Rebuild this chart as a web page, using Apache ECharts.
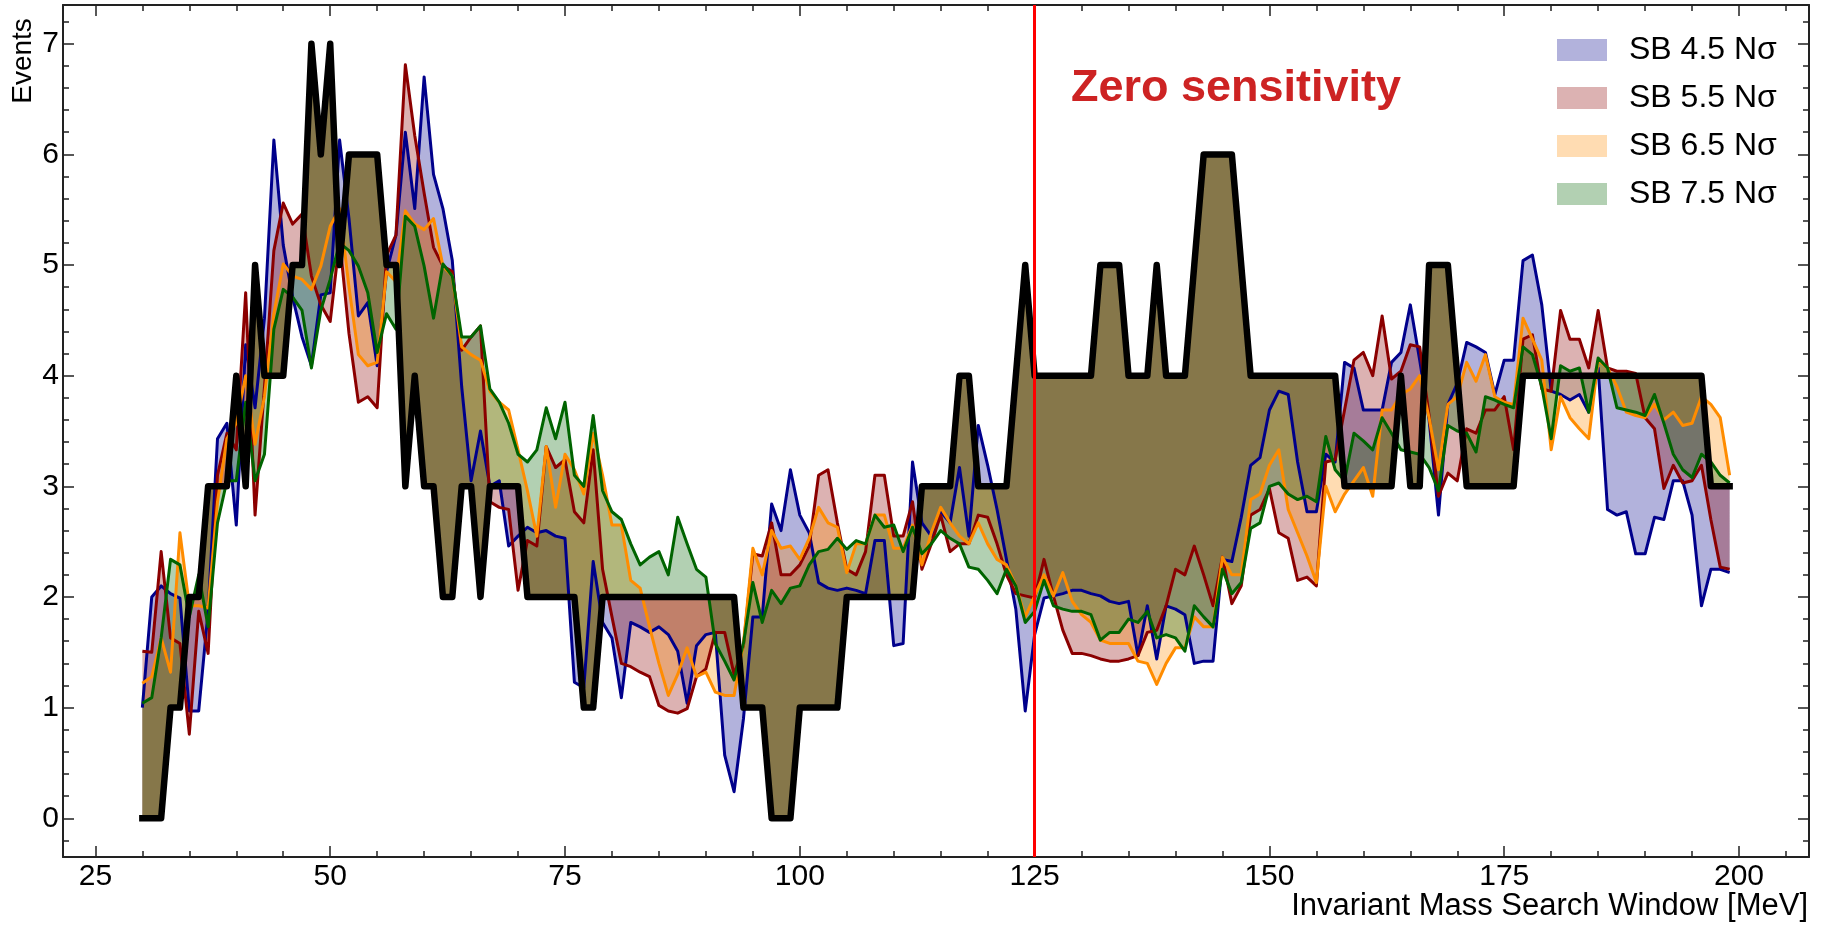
<!DOCTYPE html>
<html>
<head>
<meta charset="utf-8">
<script src="https://cdn.jsdelivr.net/npm/echarts@6/dist/echarts.min.js"></script>
<style>
html,body{margin:0;padding:0;background:#fff}
#chart{width:1825px;height:929px}
</style>
</head>
<body>
<div id="chart"></div>
<script>
// mass window grid [MeV], one point per MeV
var mass = [];
for (var m = 30; m <= 199; m++) mass.push(m);

// observed events (black)
var observed = [
	0,0,0,1,1,2,2,3,3,3, 4,3,5,4,4,4,5,5,7,6,
	7,5,6,6,6,6,5,5,3,4, 3,3,2,2,3,3,2,3,3,3,
	3,2,2,2,2,2,2,1,1,2, 2,2,2,2,2,2,2,2,2,2,
	2,2,2,2,1,1,1,0,0,0, 1,1,1,1,1,2,2,2,2,2,
	2,2,2,3,3,3,3,4,4,3, 3,3,3,4,5,4,4,4,4,4,
	4,4,5,5,5,4,4,4,5,4, 4,4,5,6,6,6,6,5,4,4,
	4,4,4,4,4,4,4,4,3,3, 3,3,3,3,4,3,3,5,5,5,
	4,3,3,3,3,3,3,4,4,4, 4,4,4,4,4,4,4,4,4,4,
	4,4,4,4,4,4,4,3,3,3
];

// SB 4.5 Nσ
var sb45 = [
	1.00,2.00,2.10,2.03,1.99,0.97,0.97,1.87,3.43,3.57, 2.65,4.28,3.71,4.52,6.13,5.18,4.71,4.35,4.09,4.73,
	4.75,6.13,5.42,4.54,4.66,4.09,4.94,5.27,6.20,5.51, 6.70,5.82,5.51,5.04,3.90,3.05,3.50,3.00,3.05,2.46,
	2.55,2.63,2.58,2.60,2.55,2.53,1.23,1.18,2.32,1.77, 1.63,1.09,1.77,1.73,1.68,1.73,1.66,1.51,1.04,1.56,
	1.66,1.68,0.57,0.24,0.90,1.82,1.82,2.84,2.60,3.15, 2.74,2.58,2.13,2.08,2.06,2.08,2.06,2.03,2.51,2.51,
	1.56,1.58,3.22,2.67,2.55,2.77,2.67,3.17,2.55,3.55, 3.19,2.79,2.34,1.89,0.97,1.66,1.99,2.01,2.03,2.06,
	2.06,2.03,2.01,1.96,1.94,1.96,1.47,1.92,1.44,1.92, 1.89,1.84,1.40,1.42,1.42,2.34,2.32,2.72,3.19,3.26,
	3.69,3.86,3.83,3.22,2.77,2.77,3.29,3.22,4.12,4.07, 3.69,3.69,3.69,4.12,4.21,4.64,4.14,3.60,2.74,3.74,
	3.93,4.30,4.26,4.21,3.83,4.14,4.14,5.04,5.09,4.64, 3.86,3.83,3.78,3.83,3.67,4.07,2.79,2.74,2.77,2.39,
	2.39,2.72,2.70,3.05,3.05,2.74,1.92,2.25,2.25,2.22
];

// SB 5.5 Nσ
var sb55 = [
	1.51,1.50,2.41,1.63,1.58,0.76,1.87,1.49,3.10,3.48, 3.33,4.75,2.74,3.90,5.13,5.56,5.37,5.46,4.90,4.64,
	4.49,5.23,4.38,3.76,3.81,3.71,5.09,5.27,6.81,6.17, 5.65,5.16,4.99,4.94,4.23,4.35,4.45,2.86,2.81,2.79,
	2.06,2.51,2.46,3.36,3.17,3.24,2.77,2.67,3.33,2.25, 1.82,1.40,1.37,1.32,1.28,1.02,0.97,0.95,0.99,1.28,
	1.35,1.68,1.68,1.30,1.56,2.39,2.37,2.67,2.20,2.20, 2.29,2.46,3.10,3.15,2.67,2.25,2.20,2.41,3.10,3.10,
	2.55,2.55,2.86,2.25,2.48,2.74,2.41,2.48,2.48,2.74, 2.72,2.48,2.20,2.03,2.01,1.99,2.34,2.01,1.70,1.49,
	1.49,1.47,1.44,1.42,1.42,1.44,1.47,1.68,1.70,1.92, 2.25,2.20,2.46,2.20,1.92,2.36,1.94,2.10,2.74,2.79,
	2.98,2.58,2.53,2.15,2.18,2.10,3.22,3.24,3.69,4.14, 4.21,4.00,4.54,3.97,4.04,4.28,4.26,3.64,2.91,3.12,
	3.05,3.52,3.48,3.69,3.69,3.81,3.33,4.33,4.37,3.88, 3.86,4.59,4.33,4.33,4.07,4.59,4.07,4.04,4.04,4.02,
	3.62,3.52,2.98,3.19,3.03,3.05,3.19,2.70,2.27,2.25
];

// SB 6.5 Nσ
var sb65 = [
	1.22,1.28,1.63,1.32,2.58,1.92,1.92,1.90,2.86,3.43, 3.57,4.00,3.38,3.81,4.56,5.01,4.90,4.87,4.78,4.99,
	5.35,5.51,4.80,4.19,4.09,4.12,4.94,4.85,5.49,5.37, 5.32,5.42,4.99,4.90,4.26,4.19,4.14,3.86,3.76,3.69,
	3.33,2.96,2.55,3.36,2.81,3.29,3.15,2.93,3.48,3.10, 2.65,2.65,2.15,2.08,1.73,1.40,1.11,1.30,1.54,1.28,
	1.32,1.14,1.11,1.11,1.58,2.44,2.20,2.60,2.44,2.46, 2.34,2.53,2.81,2.67,2.63,2.22,2.48,2.48,2.74,2.74,
	2.44,2.44,2.65,2.29,2.58,2.81,2.67,2.55,2.48,2.67, 2.48,2.34,2.29,2.10,1.82,2.01,2.20,2.01,2.22,1.96,
	1.84,1.77,1.61,1.58,1.58,1.58,1.42,1.40,1.21,1.40, 1.54,1.54,1.82,1.73,1.73,2.36,2.20,2.20,2.88,2.93,
	3.19,3.33,2.79,2.58,2.37,2.13,3.00,2.77,2.93,3.05, 3.17,2.91,3.69,3.69,3.83,3.88,4.00,3.62,3.15,3.74,
	3.81,4.12,3.95,4.19,3.81,3.76,3.74,4.52,4.33,4.14, 3.33,3.81,3.62,3.52,3.43,4.14,4.07,3.90,3.67,3.64,
	3.62,3.74,3.60,3.67,3.55,3.57,3.81,3.74,3.62,3.10
];

// SB 7.5 Nσ
var sb75 = [
	1.04,1.09,1.63,2.34,2.29,1.82,2.20,1.73,2.67,3.05, 3.05,3.76,3.05,3.29,4.42,4.78,4.71,4.59,4.07,4.59,
	4.87,5.20,5.13,4.99,4.75,4.21,4.56,4.42,5.44,5.35, 4.99,4.52,5.01,4.90,4.35,4.35,4.45,3.88,3.76,3.57,
	3.29,3.22,3.33,3.71,3.43,3.76,3.10,3.00,3.64,2.96, 2.77,2.70,2.48,2.29,2.36,2.41,2.20,2.72,2.48,2.25,
	2.18,1.58,1.42,1.25,1.58,2.13,1.77,2.06,1.94,2.08, 2.10,2.29,2.41,2.43,2.53,2.43,2.51,2.48,2.74,2.63,
	2.65,2.41,2.63,2.39,2.48,2.60,2.53,2.48,2.27,2.25, 2.15,2.03,2.25,2.10,1.77,1.87,2.15,1.92,1.89,1.87,
	1.87,1.84,1.61,1.68,1.68,1.80,1.77,1.87,1.63,1.66, 1.63,1.51,1.92,1.82,1.73,2.25,2.03,2.13,2.62,2.67,
	3.00,3.03,2.93,2.88,2.91,2.86,3.45,3.15,3.05,3.48, 3.41,3.33,3.62,3.48,3.33,3.31,3.29,3.17,2.96,3.55,
	3.50,3.48,3.31,3.81,3.78,3.74,3.71,4.26,4.19,3.90, 3.43,4.09,4.04,4.07,3.67,4.16,4.07,3.71,3.69,3.67,
	3.64,3.83,3.57,3.29,3.15,3.08,3.29,3.22,3.10,3.03
];

var sbNames = ['SB 4.5 Nσ', 'SB 5.5 Nσ', 'SB 6.5 Nσ', 'SB 7.5 Nσ'];
var sbData = [sb45, sb55, sb65, sb75];
var sbLine = ['#00008b', '#8b0000', '#ff8c00', '#006400'];
var sbFill = ['rgba(0,0,139,0.3)', 'rgba(139,0,0,0.3)', 'rgba(255,140,0,0.3)', 'rgba(0,100,0,0.3)'];

// ticks
var xMajor = [25, 50, 75, 100, 125, 150, 175, 200];
var yMajor = [0, 1, 2, 3, 4, 5, 6, 7];
var xMinor = [];
for (var t = 25; t <= 205; t += 5) { if (t % 25 != 0) xMinor.push(t); }
var yMinor = [];
for (var k = -1; k <= 36; k++) { if (k % 5 != 0) yMinor.push(+(k * 0.2).toFixed(1)); }

var cutMass = 125; // zero sensitivity above this
var xRange = [21.55, 207.45];
var yRange = [-0.35, 7.35];

var FONT = 'Liberation Sans';
var AXIS_COLOR = '#222';

function pairs(values) {
	var out = [];
	for (var i = 0; i < mass.length; i++) out.push([mass[i], values[i]]);
	return out;
}

// one axis = one set of ticks (no mirrored/minor custom ticks in ECharts, so stack axes)
function makeAxis(dim, position, ticks, len, withLine, withLabel) {
	var range = dim == 'x' ? xRange : yRange;
	return {
		type: 'value',
		position: position,
		min: range[0],
		max: range[1],
		axisLine: { show: withLine, onZero: false, lineStyle: { color: AXIS_COLOR, width: 2 } },
		axisTick: { show: true, inside: true, length: len, customValues: ticks, lineStyle: { color: AXIS_COLOR, width: 1.5 } },
		axisLabel: withLabel ? { show: true, customValues: ticks, fontFamily: FONT, fontSize: 30, color: '#000', margin: dim == 'x' ? 5 : 4 } : { show: false },
		splitLine: { show: false },
		minorTick: { show: false }
	};
}

// fill between an SB curve and the observed curve, drawn as one polygon
function fillSeries(idx) {
	var values = sbData[idx];
	return {
		name: sbNames[idx],
		type: 'custom',
		coordinateSystem: 'cartesian2d',
		silent: true,
		z: 1,
		data: [[mass[0], values[0]]],
		renderItem: function (params, api) {
			var pts = [];
			for (var i = 0; i < mass.length; i++) pts.push(api.coord([mass[i], values[i]]));
			for (var j = mass.length - 1; j >= 0; j--) pts.push(api.coord([mass[j], observed[j]]));
			return { type: 'polygon', shape: { points: pts }, style: { fill: sbFill[idx] } };
		}
	};
}

function lineSeries(idx) {
	return {
		name: sbNames[idx],
		type: 'line',
		data: pairs(sbData[idx]),
		showSymbol: false,
		silent: true,
		z: 2,
		itemStyle: { color: sbLine[idx] },
		lineStyle: { color: sbLine[idx], width: 3, join: 'round' }
	};
}

var series = [];
for (var s = 0; s < sbData.length; s++) series.push(fillSeries(s));
for (var s2 = 0; s2 < sbData.length; s2++) series.push(lineSeries(s2));
series.push({
	name: 'cut',
	type: 'line',
	data: [],
	z: 3,
	markLine: {
		silent: true,
		symbol: ['none', 'none'],
		label: { show: false },
		lineStyle: { color: '#ff0000', width: 3, type: 'solid' },
		data: [{ xAxis: cutMass }]
	}
});
series.push({
	name: 'Observed',
	type: 'line',
	data: pairs(observed),
	showSymbol: false,
	silent: true,
	z: 4,
	itemStyle: { color: '#000' },
	lineStyle: { color: '#000', width: 6.5, join: 'round', cap: 'square' }
});

var legendData = [];
for (var l = 0; l < sbNames.length; l++) {
	legendData.push({ name: sbNames[l], icon: 'rect', itemStyle: { color: sbFill[l], borderWidth: 0 } });
}

var myChart = echarts.init(document.getElementById('chart'));
var option = {
	animation: false,
	backgroundColor: '#fff',
	grid: { left: 63, right: 16, top: 5, bottom: 72, containLabel: false },
	xAxis: [
		makeAxis('x', 'bottom', xMajor, 11, true, true),
		makeAxis('x', 'bottom', xMinor, 6, false, false),
		makeAxis('x', 'top', xMajor, 11, true, false),
		makeAxis('x', 'top', xMinor, 6, false, false)
	],
	yAxis: [
		makeAxis('y', 'left', yMajor, 11, true, true),
		makeAxis('y', 'left', yMinor, 6, false, false),
		makeAxis('y', 'right', yMajor, 11, true, false),
		makeAxis('y', 'right', yMinor, 6, false, false)
	],
	legend: {
		orient: 'vertical',
		left: 1557,
		top: 34,
		padding: 0,
		itemWidth: 50,
		itemHeight: 22,
		itemGap: 16,
		selectedMode: false,
		textStyle: { fontFamily: FONT, fontSize: 32, color: '#000', padding: [0, 0, 0, 17] },
		data: legendData
	},
	graphic: [
		{
			type: 'text', x: 1071, y: 89,
			style: { text: 'Zero sensitivity', fill: '#cd2323', font: 'bold 45px "Liberation Sans"', align: 'left', verticalAlign: 'middle' }
		},
		{
			type: 'text', x: 1808, y: 906,
			style: { text: 'Invariant Mass Search Window [MeV]', fill: '#000', font: '31px "Liberation Sans"', align: 'right', verticalAlign: 'middle' }
		},
		{
			type: 'text', x: 23, y: 61, rotation: Math.PI / 2,
			style: { text: 'Events', fill: '#000', font: '28px "Liberation Sans"', align: 'center', verticalAlign: 'middle' }
		}
	],
	series: series
};
myChart.setOption(option);
</script>
</body>
</html>
